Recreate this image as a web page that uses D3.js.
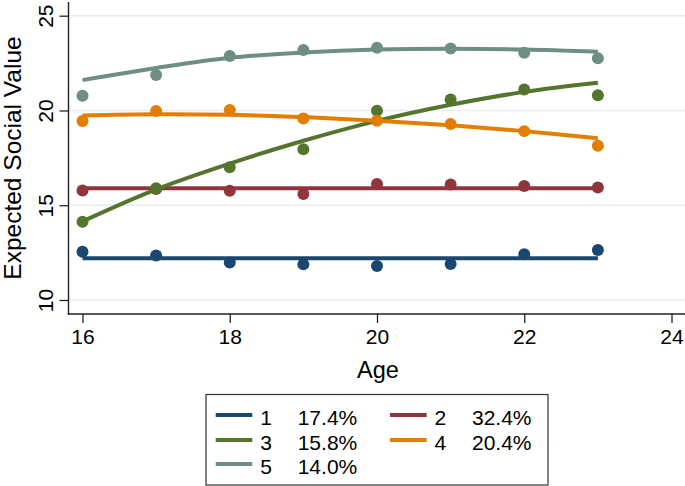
<!DOCTYPE html>
<html>
<head>
<meta charset="utf-8">
<script src="https://cdn.jsdelivr.net/npm/d3@7"></script>
<style>
  html, body { margin: 0; padding: 0; background: #fff; }
  svg { display: block; font-family: "Liberation Sans", Arial, Helvetica, sans-serif; }
</style>
</head>
<body>
<svg id="chart" width="685" height="486"></svg>
<script>
const ages = [16, 17, 18, 19, 20, 21, 22, 23];
const seriesNames = ["1", "2", "3", "4", "5"];
const seriesShares = ["17.4%", "32.4%", "15.8%", "20.4%", "14.0%"];
const seriesColors = ["#1a476f", "#90353b", "#55752f", "#e37e00", "#6e8e84"];
const observed1 = [12.55, 12.35, 11.98, 11.88, 11.79, 11.9, 12.41, 12.64];
const observed2 = [15.78, 15.86, 15.77, 15.59, 16.12, 16.1, 16.01, 15.94];
const observed3 = [14.13, 15.89, 17.0, 17.95, 19.98, 20.58, 21.11, 20.8];
const observed4 = [19.44, 19.97, 20.02, 19.58, 19.46, 19.28, 18.91, 18.14];
const observed5 = [20.78, 21.87, 22.87, 23.19, 23.31, 23.27, 23.04, 22.75];
const fitted1 = [12.2, 12.2, 12.2, 12.2, 12.2, 12.2, 12.2, 12.2];
const fitted2 = [15.89, 15.89, 15.89, 15.89, 15.89, 15.89, 15.89, 15.89];
const fitted3 = [14.15, 15.84, 17.2, 18.4, 19.45, 20.3, 20.98, 21.46];
const fitted4 = [19.74, 19.8, 19.77, 19.65, 19.46, 19.22, 18.91, 18.53];
const fitted5 = [21.6, 22.24, 22.78, 23.06, 23.22, 23.26, 23.22, 23.1];
const xTicks = [16, 18, 20, 22, 24];
const yTicks = [10, 15, 20, 25];
const xTitle = "Age";
const yTitle = "Expected Social Value";

const observed = [observed1, observed2, observed3, observed4, observed5];
const fitted = [fitted1, fitted2, fitted3, fitted4, fitted5];

const svg = d3.select("#chart");
const x = d3.scaleLinear().domain([16, 24]).range([82.5, 671.5]);
const y = d3.scaleLinear().domain([10, 25]).range([300, 15.7]);

const axisX0 = 68.5, axisY0 = 314;

// grid
svg.append("g").selectAll("line").data(yTicks).join("line")
  .attr("x1", axisX0).attr("x2", 685)
  .attr("y1", d => y(d)).attr("y2", d => y(d))
  .attr("stroke", "#e6eef1").attr("stroke-width", 1.5);

// series
const line = d3.line().x((d, i) => x(ages[i])).y(d => y(d)).curve(d3.curveCatmullRom);
seriesNames.forEach((name, s) => {
  const g = svg.append("g");
  g.selectAll("circle").data(observed[s]).join("circle")
    .attr("cx", (d, i) => x(ages[i])).attr("cy", d => y(d)).attr("r", 6)
    .attr("fill", seriesColors[s]);
  g.append("path").attr("d", line(fitted[s]))
    .attr("fill", "none").attr("stroke", seriesColors[s]).attr("stroke-width", 4);
});

// axes
const yAxis = d3.axisLeft(y).tickValues(yTicks).tickSize(9).tickPadding(0).tickFormat(d3.format("d"));
const yg = svg.append("g").attr("transform", `translate(${axisX0},0)`).call(yAxis);
yg.select(".domain").remove();
yg.selectAll(".tick line").attr("stroke", "#222").attr("stroke-width", 1.3);
yg.selectAll(".tick text").remove();
yg.selectAll(".tick").append("text")
  .attr("transform", "translate(-16,0) rotate(-90)")
  .attr("text-anchor", "middle").attr("dy", 0)
  .attr("fill", "#000").attr("font-size", 21).text(d => d);

const xAxis = d3.axisBottom(x).tickValues(xTicks).tickSize(9).tickPadding(0).tickFormat(d3.format("d"));
const xg = svg.append("g").attr("transform", `translate(0,${axisY0})`).call(xAxis);
xg.select(".domain").remove();
xg.selectAll(".tick line").attr("stroke", "#222").attr("stroke-width", 1.3);
xg.selectAll(".tick text").attr("font-size", 21).attr("fill", "#000")
  .attr("font-family", "Liberation Sans, Arial, sans-serif")
  .attr("dy", 0).attr("y", 30);

svg.append("line").attr("x1", axisX0).attr("x2", axisX0).attr("y1", 2).attr("y2", axisY0 + 0.7)
  .attr("stroke", "#222").attr("stroke-width", 1.4);
svg.append("line").attr("x1", axisX0 - 0.7).attr("x2", 685).attr("y1", axisY0).attr("y2", axisY0)
  .attr("stroke", "#222").attr("stroke-width", 1.4);

// titles
svg.append("text").attr("x", 378).attr("y", 378).attr("text-anchor", "middle")
  .attr("font-size", 23.5).attr("fill", "#000").text(xTitle);
svg.append("text").attr("transform", "translate(20.5,158) rotate(-90)").attr("text-anchor", "middle")
  .attr("font-size", 24.5).attr("fill", "#000").text(yTitle);

// legend
const lg = svg.append("g");
lg.append("rect").attr("x", 206).attr("y", 394.5).attr("width", 342).attr("height", 90.5)
  .attr("fill", "#fff").attr("stroke", "#333").attr("stroke-width", 1.2);
const legendCols = [215.7, 390];
const legendRows = [415, 440, 464];
seriesNames.forEach((name, s) => {
  const cx = legendCols[s % 2], cy = legendRows[Math.floor(s / 2)];
  lg.append("line").attr("x1", cx).attr("x2", cx + 36.6).attr("y1", cy).attr("y2", cy)
    .attr("stroke", seriesColors[s]).attr("stroke-width", 4);
  lg.append("text").attr("x", cx + 44.5).attr("y", cy + 9.5).attr("font-size", 21)
    .attr("fill", "#000").text(name);
  lg.append("text").attr("x", cx + 82).attr("y", cy + 9.5).attr("font-size", 21)
    .attr("fill", "#000").text(seriesShares[s]);
});
</script>
</body>
</html>
